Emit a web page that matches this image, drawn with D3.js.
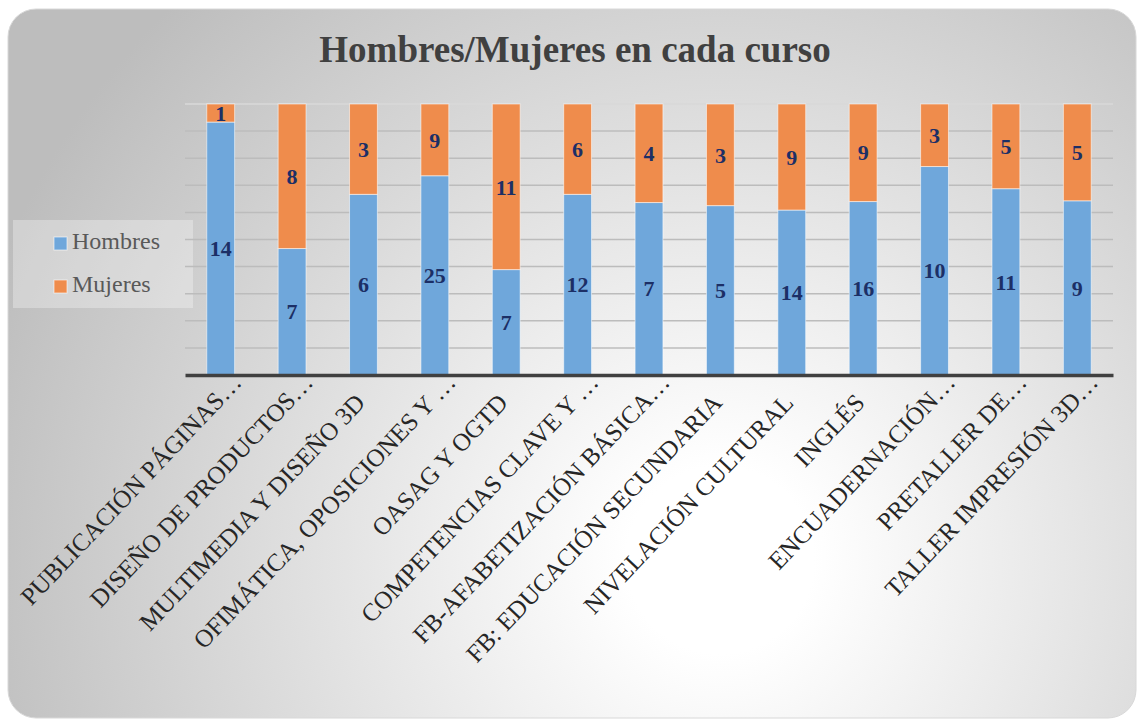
<!DOCTYPE html>
<html>
<head>
<meta charset="utf-8">
<script src="https://cdn.jsdelivr.net/npm/d3@7"></script>
<style>
  html, body { margin: 0; padding: 0; background: #fff; }
  svg { display: block; font-family: "Liberation Serif", "DejaVu Serif", serif; }
</style>
</head>
<body>
<svg id="chart" width="1137" height="720"></svg>
<script>
// --- data ---
const cursos = [
  "PUBLICACIÓN PÁGINAS…",
  "DISEÑO DE PRODUCTOS…",
  "MULTIMEDIA Y DISEÑO 3D",
  "OFIMÁTICA, OPOSICIONES Y …",
  "OASAG Y OGTD",
  "COMPETENCIAS CLAVE Y …",
  "FB-AFABETIZACIÓN BÁSICA…",
  "FB: EDUCACIÓN SECUNDARIA",
  "NIVELACIÓN CULTURAL",
  "INGLÉS",
  "ENCUADERNACIÓN…",
  "PRETALLER DE…",
  "TALLER IMPRESIÓN 3D…"
];
const hombres = [14, 7, 6, 25, 7, 12, 7, 5, 14, 16, 10, 11, 9];
const mujeres = [1, 8, 3, 9, 11, 6, 4, 3, 9, 9, 3, 5, 5];
const seriesNames = ["Hombres", "Mujeres"];
const gridTicks = d3.range(0, 1.0001, 0.1);

const colors = { Hombres: "#6fa7db", Mujeres: "#ef8c4c" };

const svg = d3.select("#chart");

// background card with radial gradient
const defs = svg.append("defs");
const grad = defs.append("radialGradient")
  .attr("id", "bg")
  .attr("gradientUnits", "userSpaceOnUse")
  .attr("cx", 720).attr("cy", 560).attr("r", 780);
grad.append("stop").attr("offset", "0%").attr("stop-color", "#ffffff");
grad.append("stop").attr("offset", "12%").attr("stop-color", "#ffffff");
grad.append("stop").attr("offset", "100%").attr("stop-color", "#bdbdbd");

svg.append("rect")
  .attr("x", 8).attr("y", 9)
  .attr("width", 1128).attr("height", 709)
  .attr("rx", 28).attr("ry", 28)
  .attr("fill", "url(#bg)")
  .attr("stroke", "#d8d8d8")
  .attr("stroke-width", 1);

// title
svg.append("text")
  .attr("x", 575).attr("y", 62)
  .attr("text-anchor", "middle")
  .style("font-size", "37px")
  .style("font-weight", "bold")
  .attr("fill", "#404040")
  .text("Hombres/Mujeres en cada curso");

// legend
const legend = svg.append("g");
legend.append("rect")
  .attr("x", 13).attr("y", 220)
  .attr("width", 180).attr("height", 88)
  .attr("fill", "#ffffff").attr("fill-opacity", 0.3);
seriesNames.forEach((name, i) => {
  const ly = 237 + i * 43;
  legend.append("rect")
    .attr("x", 54).attr("y", ly)
    .attr("width", 13).attr("height", 13)
    .attr("fill", colors[name])
    .attr("stroke", "#ffffff").attr("stroke-opacity", 0.6);
  legend.append("text")
    .attr("x", 72).attr("y", ly + 12)
    .style("font-size", "24px")
    .attr("fill", "#595959")
    .text(name);
});

// scales
const x = d3.scaleBand()
  .domain(cursos)
  .range([185, 1113])
  .paddingInner(0.61)
  .paddingOuter(0.305);

const y = d3.scaleLinear()
  .domain([0, 1])
  .range([375, 104]);

// gridlines
svg.append("g")
  .selectAll("line")
  .data(gridTicks.slice(1))
  .join("line")
  .attr("x1", 185).attr("x2", 1113)
  .attr("y1", d => y(d)).attr("y2", d => y(d))
  .attr("stroke", (d, i) => i === gridTicks.length - 2 ? "#d9d9d9" : "#bcbcbc")
  .attr("stroke-width", 1.5);

// stacked 100% bars
const rows = cursos.map((c, i) => ({ curso: c, Hombres: hombres[i], Mujeres: mujeres[i] }));
const stacked = d3.stack()
  .keys(seriesNames)
  .offset(d3.stackOffsetExpand)(rows);

const layers = svg.append("g")
  .selectAll("g")
  .data(stacked)
  .join("g")
  .attr("fill", d => colors[d.key]);

layers.selectAll("rect")
  .data(d => d)
  .join("rect")
  .attr("x", d => x(d.data.curso))
  .attr("width", x.bandwidth())
  .attr("y", d => y(d[1]))
  .attr("height", d => y(d[0]) - y(d[1]))
  .attr("stroke", "#ffffff")
  .attr("stroke-opacity", 0.55)
  .attr("stroke-width", 1);

// data labels
layers.each(function (layer) {
  d3.select(this).selectAll("text")
    .data(layer)
    .join("text")
    .attr("x", d => x(d.data.curso) + x.bandwidth() / 2)
    .attr("y", d => (y(d[0]) + y(d[1])) / 2)
    .attr("dy", "0.35em")
    .attr("text-anchor", "middle")
    .style("font-size", "22px")
    .style("font-weight", "bold")
    .attr("fill", "#1c2f66")
    .text(d => d.data[layer.key]);
});

// x axis
const xAxis = svg.append("g")
  .attr("transform", "translate(0,375)")
  .call(d3.axisBottom(x).tickSize(0).tickPadding(0));
xAxis.select(".domain")
  .attr("stroke", "#404040")
  .attr("stroke-width", 3.5);
xAxis.selectAll(".tick text")
  .attr("fill", "#262626")
  .style("font-size", "25px")
  .style("font-family", "'Liberation Serif', serif")
  .attr("text-anchor", "end")
  .attr("y", 0)
  .attr("dy", 0)
  .attr("dx", d => d.endsWith("…") ? 28 : 0)
  .attr("transform", "translate(3,29) rotate(-46.5)");
</script>
</body>
</html>
